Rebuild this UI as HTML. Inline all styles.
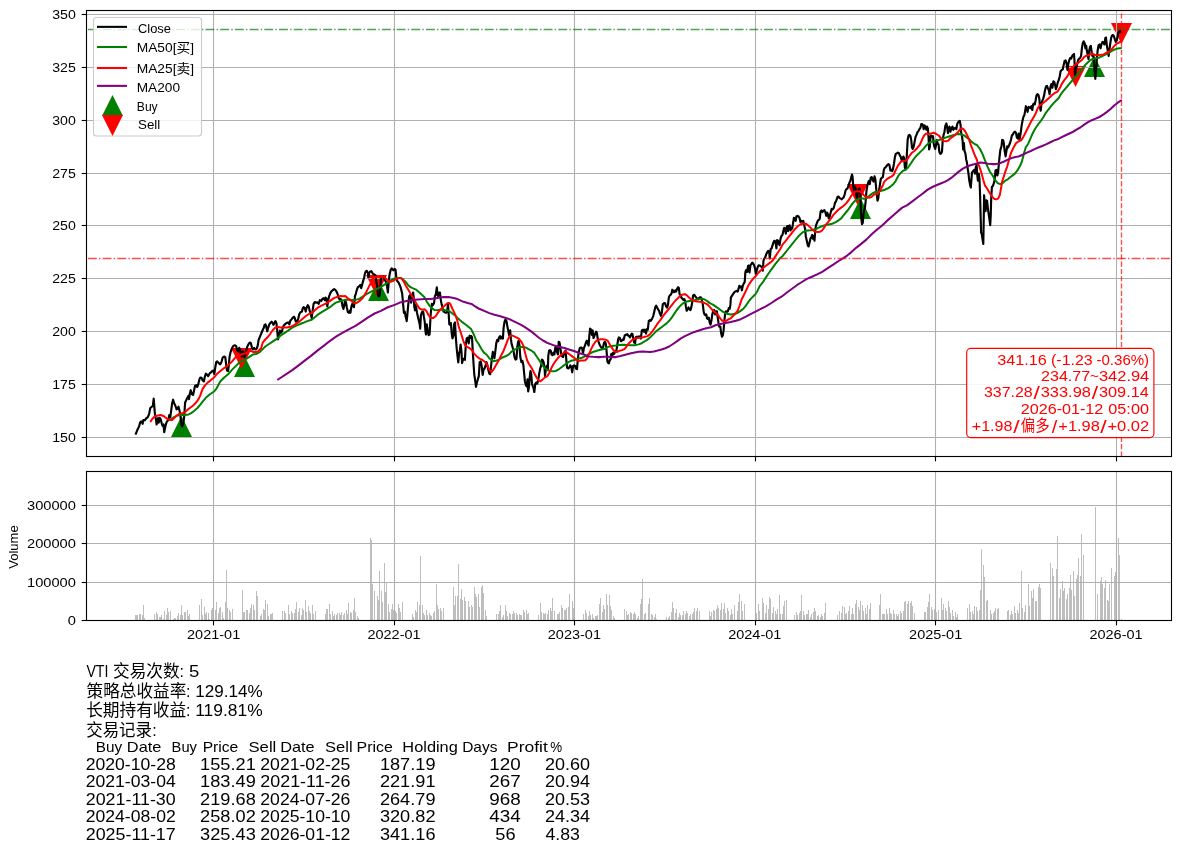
<!DOCTYPE html>
<html lang="zh"><head><meta charset="utf-8"><title>VTI</title>
<style>html,body{margin:0;padding:0;background:#fff;overflow:hidden}svg{display:block}text{white-space:pre}</style>
</head><body>
<svg width="1180" height="852" viewBox="0 0 1180 852" font-family='"Liberation Sans", "Noto Sans CJK SC", sans-serif'>
<rect width="1180" height="852" fill="#fff"/>
<defs><clipPath id="c1"><rect x="86.5" y="10.5" width="1085.0" height="446.0"/></clipPath><clipPath id="c2"><rect x="86.5" y="471.5" width="1085.0" height="149.0"/></clipPath></defs>
<g clip-path="url(#c1)">
<path d="M181.50,416.00 L171.00,437.00 L192.00,437.00 Z" fill="#008000"/>
<path d="M244.50,356.00 L234.00,377.00 L255.00,377.00 Z" fill="#008000"/>
<path d="M378.50,280.00 L368.00,301.00 L389.00,301.00 Z" fill="#008000"/>
<path d="M860.50,198.00 L850.00,219.00 L871.00,219.00 Z" fill="#008000"/>
<path d="M1094.50,56.00 L1084.00,77.00 L1105.00,77.00 Z" fill="#008000"/>
<path d="M241.50,369.00 L231.00,348.00 L252.00,348.00 Z" fill="#ff0000"/>
<path d="M376.50,296.00 L366.00,275.00 L387.00,275.00 Z" fill="#ff0000"/>
<path d="M857.50,205.00 L847.00,184.00 L868.00,184.00 Z" fill="#ff0000"/>
<path d="M1075.50,87.00 L1065.00,66.00 L1086.00,66.00 Z" fill="#ff0000"/>
<path d="M1121.50,44.00 L1111.00,23.00 L1132.00,23.00 Z" fill="#ff0000"/>
<line x1="213.5" x2="213.5" y1="10.5" y2="456.5" stroke="#b0b0b0" stroke-width="1.11"/>
<line x1="394.5" x2="394.5" y1="10.5" y2="456.5" stroke="#b0b0b0" stroke-width="1.11"/>
<line x1="574.5" x2="574.5" y1="10.5" y2="456.5" stroke="#b0b0b0" stroke-width="1.11"/>
<line x1="755.5" x2="755.5" y1="10.5" y2="456.5" stroke="#b0b0b0" stroke-width="1.11"/>
<line x1="935.5" x2="935.5" y1="10.5" y2="456.5" stroke="#b0b0b0" stroke-width="1.11"/>
<line x1="1116.5" x2="1116.5" y1="10.5" y2="456.5" stroke="#b0b0b0" stroke-width="1.11"/>
<line x1="86.5" x2="1171.5" y1="437.5" y2="437.5" stroke="#b0b0b0" stroke-width="1.11"/>
<line x1="86.5" x2="1171.5" y1="384.5" y2="384.5" stroke="#b0b0b0" stroke-width="1.11"/>
<line x1="86.5" x2="1171.5" y1="331.5" y2="331.5" stroke="#b0b0b0" stroke-width="1.11"/>
<line x1="86.5" x2="1171.5" y1="278.5" y2="278.5" stroke="#b0b0b0" stroke-width="1.11"/>
<line x1="86.5" x2="1171.5" y1="225.5" y2="225.5" stroke="#b0b0b0" stroke-width="1.11"/>
<line x1="86.5" x2="1171.5" y1="173.5" y2="173.5" stroke="#b0b0b0" stroke-width="1.11"/>
<line x1="86.5" x2="1171.5" y1="120.5" y2="120.5" stroke="#b0b0b0" stroke-width="1.11"/>
<line x1="86.5" x2="1171.5" y1="67.5" y2="67.5" stroke="#b0b0b0" stroke-width="1.11"/>
<line x1="86.5" x2="1171.5" y1="14.5" y2="14.5" stroke="#b0b0b0" stroke-width="1.11"/>
<polyline points="135.5,434.7 137.2,430.3 139.1,426.4 140.1,422.6 141.4,421.4 142.6,423.9 143.3,420.1 144.8,420.3 146.3,418.2 147.7,417.3 149.0,414.4 150.3,408.0 151.8,406.7 152.8,406.1 153.7,398.7 154.3,406.1 155.0,415.0 156.0,419.4 156.6,424.5 157.6,419.4 158.1,418.2 158.8,422.6 159.7,417.8 160.7,419.4 161.7,423.3 162.6,425.8 163.5,424.5 164.2,432.2 165.1,427.7 166.0,423.9 167.0,421.4 168.3,420.1 169.3,415.0 170.3,417.3 171.1,411.2 172.1,403.6 173.1,399.7 174.0,402.9 175.3,405.5 176.6,409.3 177.5,408.6 178.5,406.7 179.5,410.6 180.5,416.3 181.4,425.2 182.3,426.4 183.3,423.9 184.2,416.3 185.1,402.5 186.1,400.4 187.4,397.8 188.4,395.9 189.0,399.1 189.9,393.4 190.7,390.2 191.8,394.0 193.1,394.9 194.0,390.8 195.0,386.0 196.3,385.1 197.2,387.0 198.2,384.5 199.4,379.4 200.3,377.5 201.6,377.8 202.6,380.4 203.9,381.3 204.8,376.9 205.8,373.7 207.1,374.6 208.1,376.2 209.4,373.7 210.9,372.4 212.2,371.1 213.4,370.5 214.3,374.1 215.3,367.3 216.2,362.2 217.2,361.4 218.5,362.9 220.2,364.4 221.4,362.2 222.7,357.5 224.0,356.5 225.3,357.2 226.1,364.2 227.0,370.5 228.1,371.1 228.8,365.4 229.6,356.5 230.6,352.1 231.9,348.3 233.5,345.7 235.0,345.3 236.3,346.4 237.2,350.2 238.2,351.4 239.2,347.9 240.1,349.5 240.8,354.0 241.8,356.5 242.7,351.4 243.6,352.7 244.3,357.2 245.2,355.3 246.1,351.4 247.1,347.0 248.4,344.4 249.7,342.5 250.9,343.2 251.9,347.6 252.8,349.5 254.1,347.9 255.4,349.5 256.7,348.6 257.7,345.7 258.6,340.0 262.7,330.0 263.7,328.1 264.6,324.9 265.5,324.3 266.3,326.8 267.2,331.3 268.1,328.1 269.1,324.9 270.3,323.0 271.6,321.7 272.6,323.0 273.5,324.9 274.4,323.0 275.4,321.1 276.4,323.0 277.1,329.4 278.0,339.5 279.0,335.7 279.9,330.6 281.1,332.6 282.0,331.3 283.1,326.8 284.3,324.9 285.6,323.7 286.9,322.8 288.1,322.4 289.4,324.3 290.4,320.5 291.7,319.2 292.6,317.9 293.9,316.7 294.7,317.9 295.8,321.7 297.0,321.7 298.1,319.2 299.3,314.1 300.6,312.2 301.9,311.6 302.8,308.4 303.6,307.1 304.7,307.8 305.7,311.6 306.6,307.8 307.8,305.2 308.7,306.5 309.7,310.9 310.8,314.1 311.7,317.9 312.5,311.6 313.6,303.9 314.8,302.0 316.1,302.7 317.4,302.4 318.6,303.9 319.9,300.1 321.2,300.8 322.5,298.9 323.7,298.2 324.7,300.1 325.6,297.6 326.5,298.9 327.3,306.5 328.2,300.1 329.1,296.3 330.3,293.1 331.6,291.2 332.9,290.0 334.2,289.1 335.4,290.0 336.7,291.9 337.7,294.4 338.7,298.2 339.6,299.5 340.5,298.9 341.5,300.1 342.5,306.5 343.4,309.0 344.3,305.2 345.1,300.1 346.0,302.7 346.9,307.8 347.9,312.2 348.9,312.8 349.8,310.9 350.4,312.8 351.4,306.5 352.3,303.9 353.2,305.9 354.0,307.1 354.9,296.3 355.8,293.8 356.8,290.0 357.8,287.4 359.1,286.2 360.3,284.9 361.2,288.1 362.1,284.9 363.1,281.1 364.2,277.3 365.0,273.4 365.9,271.2 366.9,270.9 368.0,273.4 368.5,277.3 369.2,272.8 370.1,271.5 371.4,271.2 372.3,272.8 373.3,274.1 374.6,274.7 375.6,275.3 376.2,281.1 377.1,284.9 377.8,293.8 378.6,296.3 379.7,295.7 380.3,287.4 380.9,278.5 382.2,277.3 383.5,276.6 384.5,279.2 385.4,281.1 386.3,282.3 387.0,286.2 387.9,292.5 388.6,283.6 389.2,277.3 389.8,273.4 390.8,269.6 391.7,268.4 392.1,269.0 393.3,270.3 394.6,269.0 395.5,269.6 396.3,277.3 397.2,281.1 398.4,282.3 399.7,284.9 401.0,288.7 402.2,293.8 403.1,303.9 403.9,312.8 404.8,311.6 405.4,315.4 406.7,321.1 407.3,315.4 408.2,305.2 409.2,296.3 410.3,295.1 411.1,302.7 412.0,297.6 413.1,292.5 413.7,297.6 414.3,306.5 415.0,310.3 415.8,305.2 416.9,312.2 417.9,316.7 418.8,320.5 419.7,324.3 420.2,328.7 420.9,315.4 421.9,312.2 423.2,311.6 423.9,316.7 424.7,321.7 425.4,330.6 426.0,334.5 426.8,324.3 427.7,330.6 428.6,335.1 429.6,334.5 430.2,323.0 430.8,312.8 431.9,303.9 432.8,305.2 434.0,303.3 434.9,296.3 435.9,293.8 436.8,287.4 437.5,295.1 438.2,296.3 439.1,292.5 440.0,292.5 440.8,300.1 441.7,304.6 442.5,307.8 443.6,311.6 444.8,312.2 446.1,312.8 447.1,311.6 448.0,303.9 448.6,312.8 449.3,324.3 450.2,324.9 450.9,323.0 451.8,334.5 452.5,338.3 453.5,335.7 454.1,324.3 455.0,322.4 455.8,337.0 456.7,348.4 457.5,356.1 458.3,362.4 459.1,353.5 459.8,351.0 460.6,344.6 461.4,351.0 462.1,363.1 462.9,359.9 463.9,358.6 464.9,359.9 465.8,344.6 466.7,338.3 467.7,337.6 468.7,343.4 469.6,335.7 470.5,338.0 471.3,336.1 472.0,337.3 472.8,351.9 473.6,364.7 474.3,374.8 475.1,379.9 476.0,386.9 476.9,382.5 477.9,379.3 478.8,376.1 479.7,362.1 480.7,361.5 481.7,365.9 482.7,374.8 483.5,369.7 484.5,368.5 485.5,365.9 486.4,362.1 487.3,364.7 488.3,369.7 489.3,373.6 490.2,374.2 491.1,365.9 491.9,358.3 492.8,351.9 493.6,354.5 494.4,358.3 495.4,350.7 496.3,343.1 497.2,339.9 498.2,341.1 499.1,337.3 500.0,336.1 501.0,338.6 502.0,336.7 502.9,338.6 503.6,327.8 504.6,321.4 505.5,319.5 506.4,320.8 507.4,326.5 508.4,331.6 509.3,335.4 510.2,330.3 510.9,339.2 511.7,344.3 512.5,346.9 513.5,350.7 514.5,357.0 515.6,359.6 516.5,358.9 517.3,346.9 518.1,341.8 518.8,340.5 519.6,346.9 520.3,357.0 521.4,362.1 522.4,360.8 523.3,364.7 524.2,373.6 524.9,381.2 525.8,385.0 526.7,386.3 527.5,379.3 528.2,391.4 529.0,386.3 529.7,377.4 530.5,371.0 531.3,374.8 532.0,383.7 532.8,386.3 533.6,388.2 534.3,392.0 535.3,383.7 536.4,382.5 537.2,383.7 538.1,381.2 539.2,373.6 540.2,368.5 541.1,365.9 541.9,359.6 542.7,360.2 543.6,362.1 544.5,367.2 545.0,376.1 545.8,369.7 546.8,365.9 547.8,369.7 548.3,355.8 549.1,350.7 550.0,350.0 550.8,350.7 551.6,354.5 552.5,355.1 553.5,352.6 554.4,354.5 555.2,348.1 555.9,346.9 556.9,351.9 558.0,354.5 558.7,341.8 559.5,342.4 560.3,346.9 561.0,353.2 562.0,356.4 563.1,357.0 563.9,353.9 564.8,351.9 565.6,350.7 566.4,360.8 567.1,367.8 568.4,368.5 569.4,367.2 570.3,365.3 571.2,366.6 572.2,372.3 573.2,365.9 574.1,365.3 575.0,365.9 576.0,368.5 577.0,369.1 577.9,358.3 578.8,351.9 579.8,348.1 581.1,347.5 582.1,348.1 583.0,353.2 583.9,348.1 584.9,345.6 585.0,345.6 585.9,342.5 586.8,340.6 587.8,343.7 588.6,345.6 589.3,336.1 590.1,328.5 591.0,329.7 591.9,334.8 592.6,330.4 593.5,338.0 594.4,336.1 595.2,333.6 596.1,331.7 596.9,332.9 597.7,338.6 598.6,341.8 599.5,344.4 600.5,346.3 601.8,348.2 603.1,346.9 604.1,342.5 605.0,341.8 605.8,343.7 606.6,351.4 607.4,361.5 608.1,362.8 608.9,363.4 609.7,360.3 610.7,359.0 611.3,353.9 612.2,356.4 613.2,352.6 614.2,353.9 615.3,351.4 616.4,350.7 617.3,345.0 618.1,339.3 618.9,337.4 619.8,338.0 620.8,341.2 621.9,340.6 622.8,339.3 623.6,339.9 624.7,335.5 625.9,334.8 627.2,334.2 628.2,335.5 629.1,336.1 630.0,337.4 630.8,335.5 631.7,333.6 632.5,334.2 633.3,338.6 634.2,342.5 635.1,343.1 635.8,337.4 636.7,336.7 638.0,336.7 639.3,336.4 640.2,336.7 640.9,338.6 641.8,330.4 643.1,329.7 644.0,331.7 645.0,329.7 646.0,333.6 646.9,329.1 647.8,329.7 648.8,320.8 649.8,320.2 650.7,320.8 652.0,318.9 653.3,315.8 654.2,311.9 655.2,307.5 656.2,305.6 657.1,307.5 658.0,309.4 659.0,310.7 660.0,313.9 660.9,315.8 661.8,312.6 662.8,304.3 664.1,303.1 665.1,303.3 666.0,306.2 666.9,307.5 667.9,305.0 668.9,297.3 669.8,295.4 670.7,294.8 671.7,292.9 672.3,289.7 673.2,291.0 674.2,292.2 675.3,290.3 676.1,291.6 677.0,289.1 678.1,287.2 678.8,287.8 679.6,294.2 680.6,295.4 681.6,298.0 682.5,298.6 683.4,299.9 684.4,299.2 685.2,301.1 685.9,306.9 686.7,310.7 687.6,308.8 688.5,307.5 689.5,309.4 690.5,310.0 691.4,306.9 692.3,301.8 693.1,295.4 694.3,294.8 695.2,296.1 696.1,297.3 697.1,298.6 698.1,299.2 699.0,298.0 699.9,297.3 700.9,297.3 701.9,300.5 702.8,304.3 703.7,311.9 704.5,314.5 705.4,315.1 706.3,314.5 707.0,318.3 707.9,318.9 708.8,317.7 709.6,322.1 710.5,324.7 711.4,320.8 712.2,315.1 713.1,311.3 714.2,310.0 715.2,314.4 716.1,311.3 716.9,311.3 717.7,317.6 718.5,322.7 719.2,326.5 720.3,326.5 721.1,332.9 722.0,336.7 722.8,335.4 723.6,330.3 724.3,321.4 725.1,313.8 725.8,311.3 726.9,311.9 727.9,311.3 728.8,308.1 729.7,308.7 730.4,304.9 730.9,297.3 731.9,296.0 733.0,294.1 733.9,292.8 735.1,291.6 736.4,290.9 737.7,291.6 738.7,288.4 739.3,285.8 740.2,287.1 741.1,286.5 741.9,290.3 742.8,285.8 743.6,283.9 744.7,282.0 745.4,271.9 746.2,270.0 747.2,271.9 748.0,266.1 748.7,265.5 749.5,272.5 750.4,265.5 751.3,264.2 752.3,262.7 753.3,263.6 754.2,265.5 755.1,268.7 755.8,273.8 756.7,270.6 757.6,267.4 758.6,265.3 759.7,265.5 760.6,266.1 761.4,266.8 762.2,267.4 762.8,270.6 763.5,260.4 764.4,258.5 765.3,257.2 766.3,254.1 767.3,252.2 768.2,250.9 769.1,251.5 769.8,258.5 770.7,249.0 771.6,248.3 772.6,245.2 773.4,242.6 774.2,240.7 774.9,240.7 775.8,243.9 776.4,248.3 777.1,240.1 778.0,240.7 778.7,243.3 779.6,245.2 780.5,238.8 781.3,236.3 782.5,234.9 783.3,231.1 784.2,227.9 785.0,228.6 785.8,233.6 786.5,227.9 787.3,226.0 788.1,231.1 788.8,226.0 789.7,225.4 790.6,230.5 791.4,227.9 792.2,228.6 793.1,222.8 793.9,217.8 794.8,219.7 795.7,220.9 796.4,216.5 797.5,215.8 798.6,216.5 799.5,217.8 800.5,222.2 801.5,220.9 802.4,221.6 803.3,220.9 804.1,224.7 805.0,228.6 805.8,236.2 806.9,241.3 807.9,245.7 808.6,246.4 809.4,243.2 810.4,238.7 811.3,237.5 812.2,234.9 813.0,238.7 813.9,236.2 814.5,240.6 815.3,229.8 816.0,225.4 817.0,222.8 818.1,220.3 819.1,219.7 819.8,218.4 820.6,211.4 821.5,210.5 822.4,212.0 823.4,210.8 824.4,210.1 825.3,212.0 826.2,215.8 827.2,212.7 828.0,214.6 828.7,218.4 829.7,216.5 830.8,212.0 831.7,208.9 832.5,209.5 833.6,208.2 834.3,205.7 835.1,202.5 835.8,201.9 836.7,199.3 837.6,196.8 838.6,196.5 839.7,198.1 840.7,198.7 841.7,199.3 842.7,198.3 843.7,197.4 844.7,194.2 845.6,190.4 846.5,189.2 847.5,188.5 848.6,185.3 849.4,182.8 850.3,180.9 851.1,177.7 852.0,174.5 852.6,177.1 853.3,186.6 853.9,190.4 854.9,186.6 855.8,188.5 856.4,195.5 857.2,198.7 858.0,191.7 858.7,189.2 859.6,188.5 860.3,191.7 860.8,206.9 861.3,218.4 862.0,224.1 862.8,222.8 863.4,215.8 864.1,209.5 864.8,208.9 865.6,201.9 866.4,191.7 867.2,186.6 868.1,182.8 868.9,180.9 869.8,184.1 870.7,177.7 871.7,177.1 872.7,180.3 873.6,181.5 874.5,176.4 875.3,179.0 876.0,186.6 876.8,194.2 877.5,200.6 878.3,198.1 879.1,190.4 880.0,184.1 880.8,179.0 881.9,177.7 882.9,177.1 883.8,170.1 884.7,167.9 885.6,167.3 886.6,166.0 887.6,164.7 888.6,164.1 889.5,165.4 890.4,170.5 891.4,169.8 892.3,171.1 893.2,167.9 894.0,163.5 894.9,157.1 895.8,153.9 896.8,153.3 897.8,152.7 898.8,153.1 899.8,155.2 900.8,157.1 901.6,160.3 902.5,158.4 903.4,156.5 904.2,158.4 904.9,167.9 905.7,168.6 906.4,164.7 906.9,153.3 907.7,139.3 908.6,135.5 909.5,134.9 910.5,136.1 911.3,140.6 912.0,147.6 912.8,148.9 913.6,146.9 914.6,141.9 915.6,136.8 916.5,134.9 917.4,132.3 918.4,131.1 919.4,129.2 920.4,127.9 921.3,124.1 922.2,124.1 923.0,125.3 923.7,129.2 924.5,125.3 925.4,126.6 926.3,129.8 927.0,126.6 927.9,128.5 928.6,138.1 929.1,149.5 929.8,146.9 930.5,136.8 931.1,135.5 932.1,136.8 933.0,136.1 933.6,143.1 934.4,146.9 935.2,148.9 935.9,145.7 936.8,140.0 937.7,143.8 938.5,144.4 939.4,152.0 940.3,153.9 941.3,153.3 942.0,151.4 942.8,139.3 943.6,134.9 944.4,132.3 945.3,126.0 946.4,123.4 947.1,126.6 947.9,133.0 948.6,128.5 949.5,126.6 950.4,131.7 951.4,128.5 952.5,126.6 953.3,129.8 954.2,128.5 955.3,127.9 956.3,129.2 957.2,124.1 958.1,122.2 959.1,121.3 959.8,120.9 960.6,125.3 961.2,133.0 961.9,135.5 962.6,140.6 963.1,149.5 963.9,143.1 964.5,150.8 965.4,153.3 966.2,159.7 966.9,162.2 967.7,168.6 968.5,173.6 969.2,180.0 970.0,184.4 970.8,187.6 971.5,178.7 972.0,172.4 973.1,171.1 974.1,169.8 975.0,173.6 975.8,167.3 976.6,164.7 977.1,173.6 977.9,180.6 978.8,173.6 979.5,179.3 980.1,195.8 980.6,214.9 981.1,232.7 981.8,234.0 982.5,239.1 983.3,243.9 983.7,221.3 984.1,195.2 984.8,204.7 985.6,211.1 986.4,200.3 987.1,200.9 987.9,208.6 988.8,214.9 989.7,221.3 990.2,225.1 990.7,216.2 991.2,198.4 991.9,186.9 993.0,185.7 993.9,183.1 994.7,179.3 995.5,170.4 996.4,169.8 997.3,175.5 998.1,173.0 998.8,164.1 999.6,156.4 1000.3,150.1 1001.5,146.3 1002.2,139.9 1003.1,140.2 1003.8,143.1 1004.7,151.4 1005.6,156.4 1006.4,151.4 1007.2,146.3 1008.1,147.5 1009.2,145.0 1010.2,142.5 1011.1,139.3 1011.9,135.5 1013.0,134.2 1014.0,132.3 1015.0,131.7 1016.0,132.9 1016.8,137.4 1017.8,138.6 1018.7,133.6 1019.6,139.3 1020.6,133.6 1021.6,125.9 1022.5,120.8 1023.4,117.0 1024.4,115.1 1025.4,109.4 1025.9,106.2 1026.7,108.8 1027.6,111.9 1028.5,106.9 1029.5,107.5 1030.5,108.1 1031.4,106.2 1032.3,110.0 1033.1,104.3 1033.9,103.7 1034.8,104.3 1035.6,100.5 1036.5,95.4 1037.4,94.2 1038.4,94.8 1039.4,99.2 1039.9,106.9 1040.7,110.7 1041.4,104.3 1042.2,101.1 1043.2,98.6 1044.1,95.4 1045.0,90.3 1046.0,86.5 1047.0,85.9 1047.9,88.4 1048.8,90.3 1049.6,94.2 1050.5,86.5 1051.4,84.0 1052.4,87.8 1053.4,81.4 1054.3,82.1 1055.2,85.3 1055.9,89.1 1056.8,86.5 1057.7,82.7 1058.7,80.2 1059.7,76.4 1060.6,71.3 1061.8,69.9 1062.8,69.3 1063.7,64.8 1064.6,61.0 1065.6,60.4 1066.6,63.6 1067.5,69.9 1068.4,63.6 1069.4,59.7 1070.4,57.8 1071.3,58.5 1072.2,55.9 1073.2,54.7 1074.0,54.0 1074.5,61.0 1075.0,75.0 1075.5,72.5 1076.4,67.4 1077.3,63.6 1078.3,59.7 1079.3,58.5 1080.2,57.8 1081.1,55.9 1081.9,48.3 1082.8,43.2 1083.6,41.3 1084.7,43.2 1085.4,48.3 1086.2,45.8 1086.9,50.8 1087.8,55.9 1088.5,59.1 1089.2,50.8 1090.0,47.0 1090.8,45.8 1091.5,50.8 1092.3,55.9 1093.1,54.7 1093.8,59.7 1094.6,71.2 1095.3,78.8 1096.1,71.2 1096.9,58.5 1097.6,50.8 1098.6,45.1 1099.7,44.5 1100.6,48.3 1101.4,44.5 1102.5,41.9 1103.5,42.6 1104.4,44.5 1105.3,38.1 1106.0,37.5 1106.9,45.8 1107.8,50.8 1108.6,55.9 1109.3,50.8 1110.1,44.5 1111.1,38.1 1112.0,35.6 1112.9,35.0 1113.9,36.2 1114.9,39.4 1115.8,41.9 1116.7,40.7 1117.5,36.9 1118.3,33.1 1119.2,31.8 1120.3,30.5 1121.0,31.8 1121.8,32.8" fill="none" stroke="#000" stroke-width="2.15" stroke-linejoin="round" stroke-linecap="butt" />
<polyline points="169.6,420.3 173.4,417.5 177.2,415.6 181.0,415.0 184.8,415.0 188.6,414.4 191.2,413.1 193.7,411.2 197.5,408.0 200.1,404.8 202.6,401.7 206.4,397.2 210.3,394.0 214.1,391.5 216.6,388.3 220.4,381.3 224.2,377.5 228.1,374.3 231.9,369.9 235.7,366.1 239.5,362.2 243.3,360.3 247.1,358.4 250.9,355.9 252.8,354.6 256.0,354.0 259.8,352.1 262.7,349.1 265.3,346.5 269.1,344.0 272.9,341.4 276.7,338.9 280.5,335.7 284.3,333.2 288.1,330.6 291.9,327.8 295.8,325.9 299.6,324.3 303.4,322.8 307.2,321.1 311.7,319.8 314.8,317.3 318.6,314.1 322.5,311.6 326.3,309.3 330.1,307.1 333.9,303.9 336.4,302.4 340.3,301.2 344.1,300.1 347.9,299.5 351.7,300.1 355.5,299.9 359.3,298.9 363.1,296.3 366.9,293.8 370.8,291.9 374.6,290.0 378.4,288.1 382.2,286.2 386.0,283.6 389.8,281.1 392.7,279.2 395.3,278.3 397.8,277.9 400.3,277.9 402.9,279.2 405.4,281.7 408.0,284.9 410.5,287.2 413.1,288.4 416.2,289.7 419.4,292.5 421.9,294.8 424.5,297.3 427.0,302.0 429.6,305.9 432.1,308.4 434.7,310.1 437.2,310.3 439.7,309.7 442.3,309.7 444.8,310.1 447.4,310.3 449.9,311.6 452.5,313.5 455.0,315.4 457.5,317.9 460.1,320.2 462.6,322.4 465.2,324.3 467.7,326.2 471.1,329.1 473.7,334.2 476.2,340.5 478.8,344.3 481.3,348.8 483.9,352.6 486.4,354.5 488.9,357.7 491.5,360.2 493.4,361.2 495.9,360.8 498.5,360.0 501.0,358.3 503.6,357.0 506.1,356.0 508.6,354.7 511.2,351.9 513.7,350.0 516.3,348.8 518.8,347.5 521.4,346.9 523.9,346.9 526.4,347.9 529.0,349.4 531.5,350.7 534.1,352.6 536.0,355.5 537.9,358.3 540.4,362.1 543.0,365.9 545.5,368.7 548.1,370.4 550.6,371.0 553.1,371.3 555.7,371.0 558.2,369.7 560.8,367.8 563.3,365.9 565.8,364.0 568.4,362.1 570.9,360.8 573.5,360.2 576.0,359.3 578.6,358.6 581.1,358.1 583.6,357.0 585.3,356.2 589.1,353.9 592.9,352.0 596.7,350.7 600.5,349.8 604.3,349.1 608.1,346.9 611.9,346.0 615.8,345.6 619.6,345.0 623.4,344.7 627.2,345.0 631.0,345.3 634.8,345.3 638.6,344.4 641.2,343.5 643.7,341.8 646.3,340.3 648.8,338.6 651.4,336.1 653.9,333.6 656.4,331.0 659.0,329.1 661.5,327.2 664.1,325.3 666.6,323.4 669.2,320.8 671.7,317.7 674.2,313.9 676.8,310.0 679.3,306.9 681.9,304.3 684.4,302.4 686.9,301.5 689.5,301.1 692.0,300.8 694.6,300.3 697.1,299.5 699.7,299.0 702.2,298.6 704.7,299.5 707.3,301.1 709.8,303.1 712.9,304.7 715.4,306.4 718.0,308.1 720.5,310.0 723.1,311.9 725.6,313.2 728.1,314.1 730.7,314.4 733.2,314.1 735.8,313.6 738.3,312.5 740.8,310.6 743.4,308.7 745.9,305.6 748.5,301.7 751.0,298.6 753.6,296.0 755.5,294.1 757.4,290.9 759.9,285.8 762.5,282.7 765.0,278.9 767.5,275.0 770.1,271.2 772.6,267.8 775.2,264.2 777.7,261.1 780.3,257.9 782.7,255.9 785.3,252.7 787.8,249.5 790.3,246.4 792.9,243.2 795.4,240.0 798.0,236.8 800.5,234.3 803.1,232.1 805.6,230.8 808.1,230.5 810.7,230.2 813.2,229.8 815.8,229.2 818.3,227.9 820.8,226.7 823.4,225.8 825.9,225.0 828.5,224.5 831.0,224.1 833.6,223.2 836.1,221.9 838.6,220.3 841.2,218.4 843.7,215.2 846.3,212.0 848.8,208.9 851.4,205.0 853.9,201.9 856.4,199.6 859.0,198.7 861.5,198.3 864.1,198.7 866.6,198.3 868.5,196.5 870.4,194.9 873.0,193.0 875.5,191.9 878.1,191.7 880.6,191.1 883.1,190.2 885.3,189.5 887.9,188.3 890.4,186.6 893.0,184.4 895.5,181.3 898.1,176.2 900.6,173.0 903.1,170.8 905.7,169.8 908.2,167.3 910.8,163.5 913.3,159.7 915.8,156.5 918.4,153.9 920.9,151.4 923.5,148.9 926.0,145.7 928.6,143.1 931.1,141.9 933.6,141.2 936.2,140.6 938.7,140.0 941.3,139.3 943.8,138.3 946.4,137.4 948.9,136.5 951.4,135.8 954.0,134.9 956.5,134.2 959.1,134.0 961.6,134.5 964.2,135.5 966.7,137.4 969.2,139.3 971.8,141.9 974.3,143.8 976.9,145.0 979.9,148.8 982.4,153.9 985.0,160.3 987.5,166.6 990.0,171.7 992.6,175.5 995.1,180.0 997.7,183.1 1000.2,184.2 1002.8,183.1 1005.3,180.6 1007.8,179.3 1011.7,176.1 1014.9,173.6 1017.4,170.4 1020.0,166.0 1021.9,161.5 1023.8,153.9 1025.7,147.5 1028.2,143.7 1030.1,139.3 1032.0,134.8 1033.9,131.0 1035.8,127.8 1038.4,124.0 1040.9,120.8 1043.5,117.0 1046.0,112.6 1048.6,109.4 1051.1,106.2 1053.6,103.1 1056.2,100.5 1058.7,98.0 1061.8,92.8 1065.6,88.3 1069.4,83.9 1073.2,79.4 1077.0,75.0 1080.8,70.6 1083.4,67.4 1085.9,64.2 1088.5,61.7 1091.0,59.7 1093.6,58.7 1096.1,58.2 1098.6,57.8 1101.2,56.6 1103.7,55.3 1106.3,54.0 1108.8,52.8 1111.4,51.1 1113.9,49.8 1116.4,48.9 1119.0,48.3 1121.8,48.3" fill="none" stroke="#008000" stroke-width="2.0" stroke-linejoin="round" stroke-linecap="butt" />
<polyline points="150.3,422.0 152.4,418.8 155.0,416.3 158.1,415.6 160.7,415.0 163.9,416.3 167.0,418.8 170.2,420.1 172.1,420.1 174.0,418.2 176.6,415.6 179.7,413.7 182.3,413.1 184.8,412.5 187.4,409.9 189.9,408.0 193.1,405.5 196.3,402.3 198.2,399.7 200.1,395.9 202.6,388.9 205.2,385.1 207.7,382.6 210.9,380.0 214.1,377.5 216.6,374.3 220.4,371.1 224.2,368.0 228.1,365.4 231.9,361.6 235.7,357.2 239.5,355.3 242.7,354.0 245.8,353.3 248.4,351.4 250.9,350.8 253.5,352.1 256.0,352.1 258.6,350.8 261.1,348.3 262.7,342.7 265.3,339.5 267.8,337.0 270.3,333.8 272.9,330.0 275.4,327.5 278.0,327.1 280.5,327.5 283.1,327.5 286.9,327.5 290.7,326.8 294.5,324.9 298.3,322.4 302.1,319.2 305.9,316.0 309.7,313.5 312.3,312.8 314.8,310.3 318.6,307.1 322.5,305.2 326.3,303.3 330.1,300.8 333.9,298.2 337.7,296.6 340.3,296.1 342.8,296.3 345.3,296.1 347.9,298.2 350.4,300.1 353.0,302.4 355.5,303.3 358.1,302.0 360.6,300.1 363.1,297.6 365.7,293.1 368.2,288.1 370.8,283.0 372.7,278.5 374.6,277.3 377.1,277.0 379.7,277.0 382.2,276.6 384.7,277.3 387.3,280.4 389.8,282.1 392.7,281.1 395.3,279.5 397.8,278.3 399.7,277.9 401.6,278.5 403.5,281.1 405.4,284.9 408.0,289.3 411.1,294.4 414.3,300.1 416.9,304.6 419.4,308.4 421.9,309.7 424.5,309.3 426.4,310.9 428.3,314.8 430.8,317.9 433.4,317.9 435.9,316.0 437.8,312.8 439.7,310.3 442.3,307.8 444.8,305.5 447.4,303.3 449.3,302.9 450.6,304.6 452.5,309.0 455.0,314.1 456.9,319.2 458.8,326.8 461.4,334.5 463.3,340.8 465.2,345.3 467.1,346.9 469.0,347.8 470.5,348.8 472.4,350.7 474.3,353.9 476.9,356.4 479.4,358.6 481.9,359.6 484.5,361.5 486.4,363.4 488.3,367.8 490.2,371.0 491.5,372.0 493.4,369.7 495.9,365.3 498.5,360.8 501.0,355.8 503.6,350.7 506.1,344.3 508.0,339.2 509.9,336.1 511.8,335.4 513.7,336.1 516.3,337.3 518.8,338.6 521.4,341.8 523.3,345.6 525.2,353.2 527.1,360.2 529.0,364.0 531.5,367.8 534.1,372.9 536.6,377.4 538.5,380.6 540.4,381.2 542.3,379.9 544.9,377.4 547.4,376.1 549.3,372.9 551.2,368.5 553.1,364.7 555.7,360.8 558.2,357.7 560.8,355.1 563.3,353.2 565.2,351.3 567.1,352.6 569.7,354.5 572.2,356.4 574.7,358.3 576.7,360.2 578.6,361.1 581.1,360.6 583.6,360.6 585.3,360.3 587.2,358.3 589.1,353.9 591.0,349.4 592.9,345.6 595.4,341.8 598.0,339.9 600.5,339.3 603.1,339.3 605.6,339.7 607.5,340.6 609.4,343.7 611.3,346.9 613.2,349.8 615.1,351.7 617.0,352.0 619.6,350.7 622.1,350.1 624.7,348.8 626.6,346.3 628.5,343.7 630.4,341.8 632.3,339.9 634.8,338.6 637.4,338.0 639.9,337.8 642.5,337.4 645.0,336.7 647.5,336.1 650.1,334.2 652.6,331.0 655.2,327.2 657.7,323.4 660.3,320.2 662.8,316.4 665.3,313.2 667.9,310.0 670.4,306.9 673.0,303.7 675.5,300.5 678.1,298.0 680.6,295.4 683.1,294.5 685.0,294.2 686.9,295.4 689.5,298.0 692.0,299.9 694.6,301.1 697.1,301.5 699.7,301.8 702.2,302.0 704.7,303.1 707.3,304.3 709.8,306.9 712.9,310.6 715.4,312.5 718.0,315.1 720.5,318.9 722.4,320.8 724.3,321.4 726.2,320.8 728.1,319.5 730.7,318.3 733.2,315.7 735.8,313.2 737.7,310.6 739.6,305.6 741.5,299.8 743.4,296.0 745.9,290.9 748.5,285.2 751.0,281.4 753.6,278.2 756.1,275.7 758.6,272.5 761.2,270.0 763.7,267.4 766.3,265.5 768.8,263.6 771.4,261.7 773.3,259.8 775.2,256.6 777.7,252.8 780.3,249.0 782.7,244.4 785.3,241.3 787.8,238.1 790.3,234.9 792.9,231.7 795.4,228.6 798.0,226.0 800.5,224.5 803.1,223.5 805.6,223.7 808.1,225.4 810.7,227.9 813.2,230.5 815.1,231.7 817.7,232.1 820.2,231.7 822.1,230.5 824.0,227.9 825.9,224.7 828.5,221.6 831.0,218.4 833.6,214.6 836.1,212.0 838.6,209.5 841.2,207.6 843.7,205.7 846.3,203.1 848.8,200.0 851.4,195.5 853.3,193.0 855.2,191.7 857.7,191.1 860.3,191.7 862.2,193.0 864.1,195.5 866.0,196.8 867.9,197.4 869.8,197.7 871.7,196.8 873.6,194.9 875.5,194.0 877.4,194.0 879.3,191.7 881.2,188.5 883.1,184.7 884.1,181.9 886.6,179.4 889.2,177.7 891.7,176.4 893.6,174.9 895.5,170.5 898.1,165.4 900.6,162.2 903.1,160.9 905.7,160.7 907.6,159.0 909.5,155.8 912.0,152.7 914.6,150.8 917.1,148.2 919.7,145.0 922.2,139.3 924.1,135.5 926.0,133.6 928.6,134.0 931.1,133.6 933.6,132.7 936.2,134.0 938.7,135.5 941.3,138.7 943.8,141.0 946.4,141.2 948.3,140.6 950.2,138.3 952.7,136.8 955.3,134.9 957.8,132.3 959.7,129.8 961.6,128.1 963.5,129.2 965.4,131.7 967.3,135.5 969.2,140.0 971.1,145.7 973.1,150.8 975.0,155.8 976.9,159.7 978.1,164.7 979.2,166.0 981.1,171.7 983.1,179.3 985.0,185.7 986.9,188.2 988.8,191.4 990.7,194.6 992.6,197.1 994.5,199.0 996.4,199.3 998.3,198.4 999.8,195.2 1000.8,189.5 1002.1,181.9 1005.3,171.7 1007.2,166.6 1009.2,159.0 1011.1,152.6 1013.6,147.5 1016.1,143.1 1018.7,141.2 1021.2,140.2 1023.1,137.4 1025.7,132.3 1028.2,127.2 1030.8,122.1 1033.3,117.7 1035.8,113.2 1037.8,108.1 1039.7,105.6 1042.2,103.7 1044.7,101.8 1047.3,99.5 1049.8,97.3 1052.4,94.8 1054.9,92.9 1057.5,91.6 1060.0,87.8 1061.8,83.9 1064.3,80.1 1066.9,76.9 1069.4,72.5 1071.9,68.0 1074.5,65.5 1077.0,63.6 1079.6,61.7 1082.1,59.7 1084.0,57.2 1085.9,55.9 1088.5,55.3 1091.0,54.0 1092.3,53.4 1094.2,54.7 1096.1,55.3 1098.6,54.9 1101.2,54.7 1103.7,54.4 1106.3,52.8 1108.8,51.9 1111.4,49.6 1113.9,46.4 1116.4,43.9 1119.0,42.6 1120.9,41.3 1121.8,41.3" fill="none" stroke="#ff0000" stroke-width="2.0" stroke-linejoin="round" stroke-linecap="butt" />
<polyline points="277.3,380.0 291.9,370.4 298.3,365.6 304.7,360.6 311.0,355.9 317.4,350.6 323.7,345.9 330.1,340.8 336.4,336.4 342.8,332.6 349.2,329.1 355.5,325.8 361.9,321.7 368.2,317.3 374.6,313.5 380.9,310.9 387.3,307.5 395.3,304.6 400.3,302.4 405.4,301.2 411.8,299.9 418.1,299.4 424.5,299.0 430.8,298.9 437.2,298.0 443.6,297.1 448.6,297.1 453.7,298.0 457.5,299.1 462.6,301.4 467.7,302.9 471.5,303.9 475.3,306.5 479.2,308.8 484.2,310.9 489.3,313.1 494.4,314.8 499.5,316.0 505.8,317.9 510.9,319.8 516.0,322.4 521.1,324.9 524.9,327.1 531.5,331.6 535.3,334.8 539.2,338.0 543.0,340.5 546.8,342.7 550.6,344.1 554.4,345.6 559.5,346.9 564.6,348.1 569.7,349.7 574.7,351.3 579.8,353.2 584.9,354.7 585.3,355.8 589.1,356.4 592.9,356.8 596.7,357.1 600.5,357.1 604.3,356.8 608.1,356.7 611.9,357.1 615.8,357.1 619.6,356.2 623.4,355.2 627.2,354.2 631.0,353.3 634.8,352.4 638.6,351.7 642.5,351.6 646.3,351.7 650.1,352.0 653.9,351.4 657.7,350.5 661.5,349.4 665.3,348.2 669.2,346.5 673.0,344.0 676.8,341.4 680.6,338.6 684.4,336.4 688.2,334.6 692.0,332.9 695.8,331.5 699.7,330.3 703.5,329.1 707.3,328.1 711.1,327.2 715.4,325.3 720.5,324.0 725.6,323.0 730.7,322.1 735.8,320.8 740.8,319.2 745.9,316.7 751.0,313.8 756.1,311.3 761.2,308.7 766.3,306.2 771.4,303.0 776.4,299.6 781.5,296.7 786.6,292.8 791.7,289.0 796.8,285.2 801.9,282.0 806.9,278.9 812.0,276.7 817.1,274.4 822.2,271.9 828.5,267.7 833.6,264.4 838.6,261.0 843.7,257.8 847.5,255.3 851.4,252.1 856.4,247.6 861.5,243.6 866.6,239.4 871.7,234.3 876.8,229.8 881.9,225.8 886.9,220.9 892.0,216.5 897.1,212.0 902.2,207.6 906.9,205.4 912.0,201.6 917.1,197.8 922.2,194.0 927.3,189.9 932.4,187.0 937.5,184.8 942.5,182.8 947.6,180.3 952.7,176.8 957.8,172.4 962.9,168.6 968.0,166.0 973.1,164.5 978.1,163.2 980.5,162.5 984.3,163.1 988.1,163.7 991.9,164.1 995.8,164.1 999.6,163.4 1004.1,161.5 1007.9,159.6 1011.7,158.1 1015.5,157.1 1019.3,156.2 1023.1,154.5 1026.9,152.6 1030.8,151.0 1034.6,149.1 1038.4,147.5 1042.2,146.0 1046.0,144.4 1049.8,142.5 1053.6,140.6 1057.5,139.3 1061.3,137.4 1065.1,135.5 1068.9,133.8 1072.7,132.0 1076.5,129.7 1080.3,127.5 1084.2,124.7 1088.0,122.1 1091.8,120.2 1095.6,118.6 1099.4,117.0 1103.2,114.7 1107.0,111.9 1110.8,108.8 1113.9,105.8 1117.7,102.7 1121.8,100.0" fill="none" stroke="#800080" stroke-width="2.05" stroke-linejoin="round" stroke-linecap="butt" />
<line x1="86.5" x2="1171.5" y1="29.50" y2="29.50" stroke="#008000" stroke-opacity="0.7" stroke-width="1.39" stroke-dasharray="8.9,2.2,1.4,2.2" stroke-dashoffset="-1.4"/>
<line x1="86.5" x2="1171.5" y1="258.50" y2="258.50" stroke="#ff0000" stroke-opacity="0.7" stroke-width="1.39" stroke-dasharray="8.9,2.2,1.4,2.2" stroke-dashoffset="-1.4"/>
<line x1="1121.50" x2="1121.50" y1="456.5" y2="10.5" stroke="#ff0000" stroke-opacity="0.7" stroke-width="1.39" stroke-dasharray="5.1,2.2"/>
</g>
<rect x="86.5" y="10.5" width="1085.0" height="446.0" fill="none" stroke="#000" stroke-width="1.11"/>
<line x1="213.5" x2="213.5" y1="456.5" y2="461.36" stroke="#000" stroke-width="1.11"/>
<line x1="394.5" x2="394.5" y1="456.5" y2="461.36" stroke="#000" stroke-width="1.11"/>
<line x1="574.5" x2="574.5" y1="456.5" y2="461.36" stroke="#000" stroke-width="1.11"/>
<line x1="755.5" x2="755.5" y1="456.5" y2="461.36" stroke="#000" stroke-width="1.11"/>
<line x1="935.5" x2="935.5" y1="456.5" y2="461.36" stroke="#000" stroke-width="1.11"/>
<line x1="1116.5" x2="1116.5" y1="456.5" y2="461.36" stroke="#000" stroke-width="1.11"/>
<line x1="81.64" x2="86.5" y1="437.5" y2="437.5" stroke="#000" stroke-width="1.11"/>
<text transform="translate(52.23,442.00) scale(1.1012,1)" font-size="12.85">150</text>
<line x1="81.64" x2="86.5" y1="384.5" y2="384.5" stroke="#000" stroke-width="1.11"/>
<text transform="translate(52.23,389.00) scale(1.1012,1)" font-size="12.85">175</text>
<line x1="81.64" x2="86.5" y1="331.5" y2="331.5" stroke="#000" stroke-width="1.11"/>
<text transform="translate(52.23,336.00) scale(1.1012,1)" font-size="12.85">200</text>
<line x1="81.64" x2="86.5" y1="278.5" y2="278.5" stroke="#000" stroke-width="1.11"/>
<text transform="translate(52.23,283.00) scale(1.1012,1)" font-size="12.85">225</text>
<line x1="81.64" x2="86.5" y1="225.5" y2="225.5" stroke="#000" stroke-width="1.11"/>
<text transform="translate(52.23,230.00) scale(1.1012,1)" font-size="12.85">250</text>
<line x1="81.64" x2="86.5" y1="173.5" y2="173.5" stroke="#000" stroke-width="1.11"/>
<text transform="translate(52.23,178.00) scale(1.1012,1)" font-size="12.85">275</text>
<line x1="81.64" x2="86.5" y1="120.5" y2="120.5" stroke="#000" stroke-width="1.11"/>
<text transform="translate(52.23,125.00) scale(1.1012,1)" font-size="12.85">300</text>
<line x1="81.64" x2="86.5" y1="67.5" y2="67.5" stroke="#000" stroke-width="1.11"/>
<text transform="translate(52.23,72.00) scale(1.1012,1)" font-size="12.85">325</text>
<line x1="81.64" x2="86.5" y1="14.5" y2="14.5" stroke="#000" stroke-width="1.11"/>
<text transform="translate(52.23,19.00) scale(1.1012,1)" font-size="12.85">350</text>
<rect x="93.5" y="17.5" width="108.0" height="118.5" rx="3" ry="3" fill="#fff" fill-opacity="0.8" stroke="#ccc" stroke-width="1.11"/>
<line x1="97.0" x2="127.0" y1="26.86" y2="26.86" stroke="#000" stroke-width="2.08"/>
<text transform="translate(137.95,33.10) scale(1.0012,1)" font-size="12.9">Close</text>
<line x1="97.0" x2="127.0" y1="47.0" y2="47.0" stroke="#008000" stroke-width="2.08"/>
<text transform="translate(136.70,52.10) scale(1.0683,1)" font-size="12.9">MA50[买]</text>
<line x1="97.0" x2="127.0" y1="68.0" y2="68.0" stroke="#ff0000" stroke-width="2.08"/>
<text transform="translate(136.70,73.00) scale(1.0683,1)" font-size="12.9">MA25[卖]</text>
<line x1="97.0" x2="127.0" y1="85.86" y2="85.86" stroke="#800080" stroke-width="2.08"/>
<text transform="translate(136.71,91.90) scale(1.0599,1)" font-size="12.9">MA200</text>
<path d="M112.50,95.00 L102.00,116.00 L123.00,116.00 Z" fill="#008000"/>
<path d="M112.50,136.00 L102.00,115.00 L123.00,115.00 Z" fill="#ff0000"/>
<text transform="translate(136.83,110.60) scale(0.9359,1)" font-size="12.9">Buy</text>
<text transform="translate(138.07,128.90) scale(1.0336,1)" font-size="12.9">Sell</text>
<rect x="966.7" y="348.4" width="187.2" height="89.2" rx="4" ry="4" fill="#fff" fill-opacity="0.9" stroke="#ff0000" stroke-width="1.15"/>
<text y="364.50" font-size="14.9" fill="#ff0000"><tspan x="997.15" textLength="49.57" lengthAdjust="spacingAndGlyphs">341.16</tspan> <tspan x="1051.04" textLength="41.63" lengthAdjust="spacingAndGlyphs">(-1.23</tspan> <tspan x="1096.50" textLength="52.63" lengthAdjust="spacingAndGlyphs">-0.36%)</tspan></text>
<text y="380.70" font-size="14.9" fill="#ff0000"><tspan x="1040.99" textLength="49.29" lengthAdjust="spacingAndGlyphs">234.77</tspan><tspan x="1090.08" textLength="8.99" lengthAdjust="spacingAndGlyphs">~</tspan><tspan x="1098.94" textLength="50.33" lengthAdjust="spacingAndGlyphs">342.94</tspan></text>
<text y="396.80" font-size="14.9" fill="#ff0000"><tspan x="983.96" textLength="48.75" lengthAdjust="spacingAndGlyphs">337.28</tspan><tspan x="1033.60" y="398.80" textLength="6.35" lengthAdjust="spacingAndGlyphs" font-size="17.5">/</tspan><tspan x="1040.74" y="396.80" textLength="50.19" lengthAdjust="spacingAndGlyphs">333.98</tspan><tspan x="1091.80" y="398.80" textLength="6.35" lengthAdjust="spacingAndGlyphs" font-size="17.5">/</tspan><tspan x="1098.95" y="396.80" textLength="49.92" lengthAdjust="spacingAndGlyphs">309.14</tspan></text>
<text y="414.00" font-size="14.9" fill="#ff0000"><tspan x="1020.69" textLength="82.64" lengthAdjust="spacingAndGlyphs">2026-01-12</tspan> <tspan x="1108.35" textLength="40.57" lengthAdjust="spacingAndGlyphs">05:00</tspan></text>
<text y="430.50" font-size="14.9" fill="#ff0000"><tspan x="971.76" textLength="40.69" lengthAdjust="spacingAndGlyphs">+1.98</tspan><tspan x="1013.20" y="432.50" textLength="6.35" lengthAdjust="spacingAndGlyphs" font-size="17.5">/</tspan><tspan x="1020.87" y="430.50" textLength="28.80" lengthAdjust="spacingAndGlyphs" font-size="15.6">偏多</tspan><tspan x="1051.80" y="432.50" textLength="5.56" lengthAdjust="spacingAndGlyphs" font-size="17.5">/</tspan><tspan x="1058.34" y="430.50" textLength="41.52" lengthAdjust="spacingAndGlyphs">+1.98</tspan><tspan x="1100.20" y="432.50" textLength="6.45" lengthAdjust="spacingAndGlyphs" font-size="17.5">/</tspan><tspan x="1107.44" y="430.50" textLength="41.62" lengthAdjust="spacingAndGlyphs">+0.02</tspan></text>
<g clip-path="url(#c2)">
<path d="M135 621V615h1V621zM136 621V615h1V621zM137 621V615h1V621zM139 621V614h1V621zM140 621V614h1V621zM142 621V615h1V621zM143 621V605h1V621zM144 621V618h1V621zM154 621V614h1V621zM156 621V612h1V621zM157 621V614h1V621zM159 621V617h1V621zM160 621V617h1V621zM161 621V615h1V621zM163 621V619h1V621zM164 621V611h1V621zM166 621V615h1V621zM167 621V608h1V621zM168 621V612h1V621zM170 621V611h1V621zM171 621V620h1V621zM173 621V619h1V621zM174 621V618h1V621zM175 621V618h1V621zM177 621V616h1V621zM178 621V613h1V621zM180 621V615h1V621zM181 621V605h1V621zM182 621V615h1V621zM184 621V612h1V621zM185 621V612h1V621zM187 621V610h1V621zM188 621V616h1V621zM189 621V614h1V621zM199 621V605h1V621zM201 621V599h1V621zM202 621V615h1V621zM204 621V607h1V621zM205 621V614h1V621zM206 621V612h1V621zM208 621V613h1V621zM209 621V619h1V621zM211 621V610h1V621zM212 621V608h1V621zM215 621V610h1V621zM216 621V602h1V621zM218 621V613h1V621zM219 621V608h1V621zM220 621V607h1V621zM222 621V612h1V621zM223 621V618h1V621zM225 621V602h1V621zM226 621V570h1V621zM227 621V608h1V621zM229 621V610h1V621zM230 621V612h1V621zM232 621V609h1V621zM242 621V590h1V621zM243 621V612h1V621zM244 621V612h1V621zM246 621V610h1V621zM247 621V610h1V621zM249 621V613h1V621zM250 621V608h1V621zM251 621V604h1V621zM253 621V605h1V621zM254 621V610h1V621zM256 621V591h1V621zM257 621V596h1V621zM260 621V616h1V621zM261 621V614h1V621zM263 621V609h1V621zM264 621V610h1V621zM265 621V600h1V621zM267 621V604h1V621zM268 621V616h1V621zM270 621V614h1V621zM271 621V614h1V621zM272 621V613h1V621zM282 621V611h1V621zM284 621V611h1V621zM285 621V613h1V621zM288 621V605h1V621zM289 621V614h1V621zM291 621V611h1V621zM292 621V613h1V621zM294 621V613h1V621zM295 621V609h1V621zM296 621V602h1V621zM298 621V612h1V621zM299 621V608h1V621zM301 621V615h1V621zM302 621V608h1V621zM303 621V610h1V621zM305 621V600h1V621zM306 621V612h1V621zM308 621V606h1V621zM309 621V611h1V621zM310 621V613h1V621zM312 621V605h1V621zM313 621V614h1V621zM315 621V611h1V621zM325 621V614h1V621zM326 621V609h1V621zM327 621V609h1V621zM329 621V604h1V621zM330 621V614h1V621zM332 621V611h1V621zM333 621V616h1V621zM334 621V614h1V621zM336 621V615h1V621zM337 621V613h1V621zM339 621V613h1V621zM340 621V615h1V621zM341 621V612h1V621zM343 621V615h1V621zM344 621V613h1V621zM346 621V610h1V621zM347 621V614h1V621zM348 621V603h1V621zM350 621V612h1V621zM351 621V613h1V621zM353 621V610h1V621zM354 621V598h1V621zM355 621V612h1V621zM357 621V616h1V621zM358 621V618h1V621zM370 621V538h1V621zM371 621V540h1V621zM372 621V584h1V621zM374 621V591h1V621zM377 621V596h1V621zM378 621V600h1V621zM379 621V571h1V621zM381 621V591h1V621zM382 621V602h1V621zM384 621V563h1V621zM385 621V592h1V621zM386 621V583h1V621zM388 621V604h1V621zM389 621V612h1V621zM391 621V609h1V621zM392 621V604h1V621zM393 621V610h1V621zM395 621V611h1V621zM396 621V613h1V621zM398 621V604h1V621zM399 621V608h1V621zM400 621V612h1V621zM402 621V602h1V621zM412 621V614h1V621zM413 621V617h1V621zM415 621V610h1V621zM416 621V612h1V621zM417 621V602h1V621zM419 621V605h1V621zM420 621V556h1V621zM422 621V605h1V621zM423 621V613h1V621zM424 621V615h1V621zM426 621V610h1V621zM427 621V615h1V621zM429 621V613h1V621zM430 621V615h1V621zM431 621V616h1V621zM433 621V613h1V621zM434 621V611h1V621zM436 621V584h1V621zM437 621V605h1V621zM438 621V609h1V621zM440 621V608h1V621zM441 621V611h1V621zM443 621V608h1V621zM453 621V587h1V621zM454 621V605h1V621zM455 621V596h1V621zM457 621V596h1V621zM458 621V564h1V621zM460 621V599h1V621zM461 621V589h1V621zM462 621V600h1V621zM464 621V597h1V621zM465 621V601h1V621zM468 621V601h1V621zM469 621V607h1V621zM471 621V605h1V621zM472 621V607h1V621zM474 621V587h1V621zM475 621V594h1V621zM476 621V597h1V621zM478 621V594h1V621zM479 621V607h1V621zM481 621V587h1V621zM482 621V585h1V621zM483 621V593h1V621zM485 621V610h1V621zM486 621V616h1V621zM496 621V614h1V621zM498 621V614h1V621zM499 621V611h1V621zM500 621V605h1V621zM502 621V617h1V621zM503 621V615h1V621zM505 621V605h1V621zM506 621V611h1V621zM507 621V616h1V621zM509 621V613h1V621zM510 621V614h1V621zM512 621V614h1V621zM513 621V611h1V621zM514 621V613h1V621zM516 621V613h1V621zM517 621V615h1V621zM519 621V614h1V621zM520 621V615h1V621zM521 621V615h1V621zM523 621V610h1V621zM524 621V612h1V621zM526 621V610h1V621zM527 621V614h1V621zM528 621V613h1V621zM538 621V615h1V621zM540 621V603h1V621zM541 621V612h1V621zM543 621V613h1V621zM544 621V614h1V621zM545 621V613h1V621zM547 621V614h1V621zM548 621V610h1V621zM550 621V608h1V621zM551 621V611h1V621zM552 621V598h1V621zM554 621V611h1V621zM557 621V614h1V621zM558 621V614h1V621zM559 621V612h1V621zM561 621V605h1V621zM562 621V608h1V621zM564 621V610h1V621zM565 621V610h1V621zM566 621V608h1V621zM568 621V607h1V621zM569 621V594h1V621zM572 621V601h1V621zM573 621V608h1V621zM583 621V614h1V621zM585 621V610h1V621zM586 621V613h1V621zM588 621V616h1V621zM589 621V611h1V621zM590 621V615h1V621zM592 621V614h1V621zM593 621V618h1V621zM595 621V616h1V621zM596 621V616h1V621zM597 621V615h1V621zM599 621V604h1V621zM600 621V598h1V621zM602 621V612h1V621zM603 621V605h1V621zM604 621V609h1V621zM606 621V594h1V621zM607 621V605h1V621zM609 621V595h1V621zM610 621V606h1V621zM611 621V610h1V621zM613 621V616h1V621zM614 621V618h1V621zM624 621V609h1V621zM626 621V611h1V621zM627 621V615h1V621zM628 621V614h1V621zM630 621V612h1V621zM631 621V613h1V621zM633 621V614h1V621zM634 621V612h1V621zM635 621V614h1V621zM637 621V618h1V621zM638 621V616h1V621zM640 621V604h1V621zM641 621V599h1V621zM642 621V579h1V621zM644 621V614h1V621zM645 621V613h1V621zM648 621V604h1V621zM649 621V598h1V621zM651 621V614h1V621zM652 621V615h1V621zM654 621V617h1V621zM655 621V614h1V621zM656 621V619h1V621zM666 621V617h1V621zM668 621V618h1V621zM669 621V616h1V621zM671 621V612h1V621zM672 621V602h1V621zM673 621V608h1V621zM675 621V613h1V621zM676 621V609h1V621zM678 621V617h1V621zM679 621V613h1V621zM680 621V615h1V621zM682 621V615h1V621zM683 621V611h1V621zM685 621V614h1V621zM686 621V611h1V621zM687 621V613h1V621zM689 621V616h1V621zM690 621V614h1V621zM692 621V614h1V621zM693 621V612h1V621zM694 621V608h1V621zM696 621V611h1V621zM697 621V608h1V621zM699 621V611h1V621zM709 621V611h1V621zM710 621V616h1V621zM711 621V612h1V621zM713 621V610h1V621zM714 621V611h1V621zM716 621V609h1V621zM717 621V605h1V621zM718 621V608h1V621zM720 621V610h1V621zM721 621V603h1V621zM723 621V609h1V621zM724 621V603h1V621zM725 621V613h1V621zM727 621V608h1V621zM728 621V611h1V621zM730 621V615h1V621zM731 621V609h1V621zM732 621V614h1V621zM734 621V605h1V621zM737 621V611h1V621zM738 621V602h1V621zM739 621V594h1V621zM741 621V601h1V621zM742 621V611h1V621zM744 621V604h1V621zM755 621V611h1V621zM756 621V613h1V621zM758 621V604h1V621zM759 621V611h1V621zM762 621V598h1V621zM763 621V603h1V621zM765 621V613h1V621zM766 621V605h1V621zM768 621V609h1V621zM769 621V597h1V621zM770 621V599h1V621zM772 621V613h1V621zM773 621V607h1V621zM775 621V611h1V621zM776 621V614h1V621zM777 621V609h1V621zM779 621V595h1V621zM780 621V614h1V621zM782 621V614h1V621zM783 621V606h1V621zM784 621V601h1V621zM786 621V600h1V621zM794 621V615h1V621zM796 621V612h1V621zM797 621V615h1V621zM799 621V613h1V621zM800 621V611h1V621zM801 621V595h1V621zM803 621V611h1V621zM804 621V615h1V621zM806 621V614h1V621zM807 621V614h1V621zM808 621V610h1V621zM810 621V617h1V621zM811 621V614h1V621zM813 621V612h1V621zM814 621V608h1V621zM815 621V611h1V621zM817 621V616h1V621zM818 621V615h1V621zM820 621V617h1V621zM821 621V614h1V621zM822 621V616h1V621zM824 621V613h1V621zM825 621V603h1V621zM837 621V615h1V621zM839 621V611h1V621zM841 621V613h1V621zM842 621V606h1V621zM844 621V607h1V621zM845 621V614h1V621zM846 621V613h1V621zM848 621V611h1V621zM849 621V606h1V621zM851 621V614h1V621zM852 621V608h1V621zM853 621V614h1V621zM855 621V604h1V621zM856 621V600h1V621zM858 621V607h1V621zM859 621V610h1V621zM860 621V601h1V621zM862 621V605h1V621zM863 621V611h1V621zM865 621V608h1V621zM866 621V614h1V621zM867 621V605h1V621zM869 621V609h1V621zM870 621V603h1V621zM879 621V605h1V621zM880 621V594h1V621zM882 621V614h1V621zM883 621V614h1V621zM884 621V614h1V621zM886 621V609h1V621zM887 621V614h1V621zM889 621V608h1V621zM890 621V613h1V621zM891 621V614h1V621zM893 621V610h1V621zM894 621V614h1V621zM896 621V614h1V621zM897 621V616h1V621zM898 621V614h1V621zM900 621V611h1V621zM901 621V613h1V621zM903 621V611h1V621zM904 621V602h1V621zM905 621V601h1V621zM907 621V604h1V621zM908 621V601h1V621zM910 621V603h1V621zM911 621V601h1V621zM912 621V606h1V621zM914 621V613h1V621zM924 621V612h1V621zM925 621V612h1V621zM927 621V607h1V621zM928 621V602h1V621zM929 621V594h1V621zM931 621V607h1V621zM932 621V610h1V621zM934 621V609h1V621zM936 621V612h1V621zM938 621V610h1V621zM941 621V598h1V621zM942 621V610h1V621zM943 621V604h1V621zM945 621V608h1V621zM946 621V611h1V621zM948 621V601h1V621zM949 621V607h1V621zM950 621V613h1V621zM952 621V610h1V621zM953 621V616h1V621zM955 621V612h1V621zM956 621V617h1V621zM957 621V614h1V621zM967 621V608h1V621zM969 621V604h1V621zM970 621V612h1V621zM972 621V611h1V621zM973 621V614h1V621zM974 621V606h1V621zM976 621V607h1V621zM977 621V611h1V621zM979 621V610h1V621zM980 621V590h1V621zM981 621V549h1V621zM983 621V565h1V621zM984 621V577h1V621zM986 621V601h1V621zM987 621V600h1V621zM990 621V610h1V621zM991 621V614h1V621zM993 621V613h1V621zM994 621V611h1V621zM995 621V608h1V621zM997 621V609h1V621zM998 621V608h1V621zM1007 621V611h1V621zM1008 621V610h1V621zM1010 621V615h1V621zM1011 621V611h1V621zM1012 621V614h1V621zM1014 621V606h1V621zM1015 621V613h1V621zM1017 621V610h1V621zM1018 621V613h1V621zM1019 621V603h1V621zM1021 621V571h1V621zM1022 621V608h1V621zM1024 621V612h1V621zM1025 621V605h1V621zM1028 621V584h1V621zM1029 621V606h1V621zM1031 621V591h1V621zM1032 621V598h1V621zM1033 621V589h1V621zM1035 621V601h1V621zM1036 621V601h1V621zM1038 621V587h1V621zM1039 621V584h1V621zM1040 621V588h1V621zM1050 621V563h1V621zM1052 621V568h1V621zM1053 621V576h1V621zM1056 621V569h1V621zM1057 621V536h1V621zM1059 621V598h1V621zM1060 621V589h1V621zM1062 621V581h1V621zM1063 621V591h1V621zM1064 621V588h1V621zM1066 621V599h1V621zM1067 621V594h1V621zM1069 621V588h1V621zM1070 621V575h1V621zM1071 621V590h1V621zM1073 621V571h1V621zM1074 621V596h1V621zM1076 621V579h1V621zM1077 621V575h1V621zM1078 621V558h1V621zM1080 621V576h1V621zM1081 621V534h1V621zM1083 621V555h1V621zM1095 621V507h1V621zM1097 621V594h1V621zM1100 621V581h1V621zM1101 621V577h1V621zM1102 621V584h1V621zM1104 621V588h1V621zM1105 621V580h1V621zM1107 621V600h1V621zM1108 621V601h1V621zM1109 621V584h1V621zM1111 621V568h1V621zM1114 621V576h1V621zM1115 621V572h1V621zM1116 621V598h1V621zM1118 621V538h1V621zM1119 621V555h1V621zM1121 621V619h1V621z" fill="#bebebe" shape-rendering="crispEdges"/>
<line x1="213.5" x2="213.5" y1="471.5" y2="620.5" stroke="#b0b0b0" stroke-width="1.11"/>
<line x1="394.5" x2="394.5" y1="471.5" y2="620.5" stroke="#b0b0b0" stroke-width="1.11"/>
<line x1="574.5" x2="574.5" y1="471.5" y2="620.5" stroke="#b0b0b0" stroke-width="1.11"/>
<line x1="755.5" x2="755.5" y1="471.5" y2="620.5" stroke="#b0b0b0" stroke-width="1.11"/>
<line x1="935.5" x2="935.5" y1="471.5" y2="620.5" stroke="#b0b0b0" stroke-width="1.11"/>
<line x1="1116.5" x2="1116.5" y1="471.5" y2="620.5" stroke="#b0b0b0" stroke-width="1.11"/>
<line x1="86.5" x2="1171.5" y1="620.5" y2="620.5" stroke="#b0b0b0" stroke-width="1.11"/>
<line x1="86.5" x2="1171.5" y1="582.5" y2="582.5" stroke="#b0b0b0" stroke-width="1.11"/>
<line x1="86.5" x2="1171.5" y1="543.5" y2="543.5" stroke="#b0b0b0" stroke-width="1.11"/>
<line x1="86.5" x2="1171.5" y1="505.5" y2="505.5" stroke="#b0b0b0" stroke-width="1.11"/>
</g>
<rect x="86.5" y="471.5" width="1085.0" height="149.0" fill="none" stroke="#000" stroke-width="1.11"/>
<line x1="213.5" x2="213.5" y1="620.5" y2="625.36" stroke="#000" stroke-width="1.11"/>
<text transform="translate(187.05,638.85) scale(1.1598,1)" font-size="12.5">2021-01</text>
<line x1="394.5" x2="394.5" y1="620.5" y2="625.36" stroke="#000" stroke-width="1.11"/>
<text transform="translate(367.43,638.85) scale(1.1598,1)" font-size="12.5">2022-01</text>
<line x1="574.5" x2="574.5" y1="620.5" y2="625.36" stroke="#000" stroke-width="1.11"/>
<text transform="translate(547.82,638.85) scale(1.1598,1)" font-size="12.5">2023-01</text>
<line x1="755.5" x2="755.5" y1="620.5" y2="625.36" stroke="#000" stroke-width="1.11"/>
<text transform="translate(728.21,638.85) scale(1.1598,1)" font-size="12.5">2024-01</text>
<line x1="935.5" x2="935.5" y1="620.5" y2="625.36" stroke="#000" stroke-width="1.11"/>
<text transform="translate(909.09,638.85) scale(1.1598,1)" font-size="12.5">2025-01</text>
<line x1="1116.5" x2="1116.5" y1="620.5" y2="625.36" stroke="#000" stroke-width="1.11"/>
<text transform="translate(1089.47,638.85) scale(1.1598,1)" font-size="12.5">2026-01</text>
<line x1="81.64" x2="86.5" y1="620.5" y2="620.5" stroke="#000" stroke-width="1.11"/>
<text transform="translate(67.79,625.00) scale(1.1411,1)" font-size="12.85">0</text>
<line x1="81.64" x2="86.5" y1="582.5" y2="582.5" stroke="#000" stroke-width="1.11"/>
<text transform="translate(27.01,587.00) scale(1.1411,1)" font-size="12.85">100000</text>
<line x1="81.64" x2="86.5" y1="543.5" y2="543.5" stroke="#000" stroke-width="1.11"/>
<text transform="translate(27.01,548.00) scale(1.1411,1)" font-size="12.85">200000</text>
<line x1="81.64" x2="86.5" y1="505.5" y2="505.5" stroke="#000" stroke-width="1.11"/>
<text transform="translate(27.01,510.00) scale(1.1411,1)" font-size="12.85">300000</text>
<text transform="translate(17.60,568.80) rotate(-90) scale(1.0101,1)" font-size="12.9">Volume</text>
<text y="677.10" font-size="15.8"><tspan x="86.40" textLength="22.12" lengthAdjust="spacingAndGlyphs">VTI</tspan><tspan x="113.07" textLength="66.53" lengthAdjust="spacingAndGlyphs" font-size="16.67">交易次数</tspan><tspan x="179.56" textLength="4.45" lengthAdjust="spacingAndGlyphs">:</tspan><tspan x="188.96" textLength="10.31" lengthAdjust="spacingAndGlyphs">5</tspan></text>
<text y="696.80" font-size="15.8"><tspan x="86.50" textLength="99.83" lengthAdjust="spacingAndGlyphs" font-size="16.67">策略总收益率</tspan><tspan x="185.96" textLength="4.45" lengthAdjust="spacingAndGlyphs">:</tspan><tspan x="195.20" textLength="67.44" lengthAdjust="spacingAndGlyphs">129.14%</tspan></text>
<text y="715.80" font-size="15.8"><tspan x="86.17" textLength="100.00" lengthAdjust="spacingAndGlyphs" font-size="16.67">长期持有收益</tspan><tspan x="185.96" textLength="4.45" lengthAdjust="spacingAndGlyphs">:</tspan><tspan x="195.20" textLength="67.44" lengthAdjust="spacingAndGlyphs">119.81%</tspan></text>
<text y="735.50" font-size="15.8"><tspan x="86.18" textLength="65.85" lengthAdjust="spacingAndGlyphs" font-size="16.67">交易记录</tspan><tspan x="152.16" textLength="4.45" lengthAdjust="spacingAndGlyphs">:</tspan></text>
<text y="752.20" font-size="14.8"><tspan x="95.68" textLength="26.37" lengthAdjust="spacingAndGlyphs">Buy</tspan> <tspan x="126.89" textLength="34.50" lengthAdjust="spacingAndGlyphs">Date</tspan> <tspan x="171.62" textLength="25.32" lengthAdjust="spacingAndGlyphs">Buy</tspan> <tspan x="202.65" textLength="35.65" lengthAdjust="spacingAndGlyphs">Price</tspan> <tspan x="248.53" textLength="27.79" lengthAdjust="spacingAndGlyphs">Sell</tspan> <tspan x="280.30" textLength="34.39" lengthAdjust="spacingAndGlyphs">Date</tspan> <tspan x="325.04" textLength="27.58" lengthAdjust="spacingAndGlyphs">Sell</tspan> <tspan x="356.53" textLength="36.28" lengthAdjust="spacingAndGlyphs">Price</tspan> <tspan x="402.39" textLength="55.41" lengthAdjust="spacingAndGlyphs">Holding</tspan> <tspan x="462.16" textLength="35.28" lengthAdjust="spacingAndGlyphs">Days</tspan> <tspan x="507.10" textLength="40.77" lengthAdjust="spacingAndGlyphs">Profit</tspan> <tspan x="550.30" textLength="11.89" lengthAdjust="spacingAndGlyphs">%</tspan></text>
<text y="769.50" font-size="15.8"><tspan x="85.72" textLength="90.00" lengthAdjust="spacingAndGlyphs">2020-10-28</tspan> <tspan x="200.13" textLength="55.66" lengthAdjust="spacingAndGlyphs">155.21</tspan> <tspan x="260.32" textLength="90.10" lengthAdjust="spacingAndGlyphs">2021-02-25</tspan> <tspan x="379.93" textLength="55.57" lengthAdjust="spacingAndGlyphs">187.19</tspan> <tspan x="489.28" textLength="31.44" lengthAdjust="spacingAndGlyphs">120</tspan> <tspan x="545.00" textLength="45.09" lengthAdjust="spacingAndGlyphs">20.60</tspan></text>
<text y="787.00" font-size="15.8"><tspan x="85.72" textLength="90.00" lengthAdjust="spacingAndGlyphs">2021-03-04</tspan> <tspan x="200.13" textLength="55.66" lengthAdjust="spacingAndGlyphs">183.49</tspan> <tspan x="260.32" textLength="90.10" lengthAdjust="spacingAndGlyphs">2021-11-26</tspan> <tspan x="379.93" textLength="55.57" lengthAdjust="spacingAndGlyphs">221.91</tspan> <tspan x="489.28" textLength="31.44" lengthAdjust="spacingAndGlyphs">267</tspan> <tspan x="545.00" textLength="45.09" lengthAdjust="spacingAndGlyphs">20.94</tspan></text>
<text y="804.60" font-size="15.8"><tspan x="85.72" textLength="90.00" lengthAdjust="spacingAndGlyphs">2021-11-30</tspan> <tspan x="200.13" textLength="55.66" lengthAdjust="spacingAndGlyphs">219.68</tspan> <tspan x="260.32" textLength="90.10" lengthAdjust="spacingAndGlyphs">2024-07-26</tspan> <tspan x="379.93" textLength="55.57" lengthAdjust="spacingAndGlyphs">264.79</tspan> <tspan x="489.28" textLength="31.44" lengthAdjust="spacingAndGlyphs">968</tspan> <tspan x="545.00" textLength="45.09" lengthAdjust="spacingAndGlyphs">20.53</tspan></text>
<text y="822.10" font-size="15.8"><tspan x="85.72" textLength="90.00" lengthAdjust="spacingAndGlyphs">2024-08-02</tspan> <tspan x="200.13" textLength="55.66" lengthAdjust="spacingAndGlyphs">258.02</tspan> <tspan x="260.32" textLength="90.10" lengthAdjust="spacingAndGlyphs">2025-10-10</tspan> <tspan x="379.93" textLength="55.57" lengthAdjust="spacingAndGlyphs">320.82</tspan> <tspan x="489.28" textLength="31.44" lengthAdjust="spacingAndGlyphs">434</tspan> <tspan x="545.00" textLength="45.09" lengthAdjust="spacingAndGlyphs">24.34</tspan></text>
<text y="839.70" font-size="15.8"><tspan x="85.72" textLength="90.00" lengthAdjust="spacingAndGlyphs">2025-11-17</tspan> <tspan x="200.13" textLength="55.66" lengthAdjust="spacingAndGlyphs">325.43</tspan> <tspan x="260.32" textLength="90.10" lengthAdjust="spacingAndGlyphs">2026-01-12</tspan> <tspan x="379.93" textLength="55.57" lengthAdjust="spacingAndGlyphs">341.16</tspan> <tspan x="495.27" textLength="20.30" lengthAdjust="spacingAndGlyphs">56</tspan> <tspan x="545.55" textLength="34.39" lengthAdjust="spacingAndGlyphs">4.83</tspan></text>
</svg>
</body></html>
